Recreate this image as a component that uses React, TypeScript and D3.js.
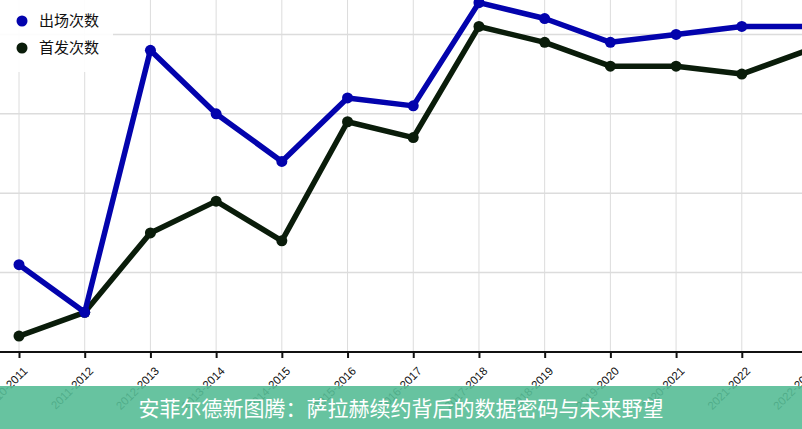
import { useEffect, useRef } from 'react';
import * as d3 from 'd3';

const seasons = [
  '2010-2011', '2011-2012', '2012-2013', '2013-2014', '2014-2015', '2015-2016', '2016-2017',
  '2017-2018', '2018-2019', '2019-2020', '2020-2021', '2021-2022', '2022-2023',
];
const appearances = [11, 5, 38, 30, 24, 32, 31, 44, 42, 39, 40, 41, 41];
const starts = [2, 5, 15, 19, 14, 29, 27, 41, 39, 36, 36, 35, 38];
const yTicks = [0, 10, 20, 30, 40, 50];

const SERIES = [
  { name: '出场次数', values: appearances, color: '#0303ad' },
  { name: '首发次数', values: starts, color: '#0a1c0a' },
];

const TITLE = '安菲尔德新图腾：萨拉赫续约背后的数据密码与未来野望';

export default function App() {
  const svgRef = useRef<SVGSVGElement>(null);
  const width = 802;
  const height = 429;

  useEffect(() => {
    if (!svgRef.current) return;
    const svg = d3.select(svgRef.current);
    svg.selectAll('*').remove();

    const x = d3.scalePoint<string>().domain(seasons).range([19, 807.5]);
    const y = d3.scaleLinear().domain([0, 50]).range([352, 352 - 50 * 7.94]);

    svg.append('rect').attr('width', width).attr('height', height).attr('fill', '#fff');

    // Grid
    svg.append('g').selectAll('line').data(seasons).join('line')
      .attr('x1', d => x(d)!).attr('x2', d => x(d)!).attr('y1', 0).attr('y2', 352)
      .attr('stroke', '#dcdcdc').attr('stroke-width', 1);
    svg.append('g').selectAll('line').data(yTicks.slice(1)).join('line')
      .attr('x1', 0).attr('x2', width).attr('y1', d => y(d)).attr('y2', d => y(d))
      .attr('stroke', '#dcdcdc').attr('stroke-width', 1.5);

    // X axis
    const xAxis = svg.append('g').attr('transform', 'translate(0,352)')
      .call(d3.axisBottom(x).tickSize(6).tickSizeOuter(0));
    xAxis.select('.domain').remove();
    xAxis.append('line').attr('x1', 0).attr('x2', width).attr('y1', 0).attr('y2', 0)
      .attr('stroke', '#111').attr('stroke-width', 2);
    xAxis.selectAll('.tick line').attr('stroke', '#111').attr('stroke-width', 2);
    xAxis.selectAll('.tick text')
      .attr('font-family', '"Liberation Sans", Arial, sans-serif').attr('font-size', 11.5)
      .attr('fill', '#111').attr('text-anchor', 'end')
      .attr('dx', '-0.3em').attr('dy', '0.6em')
      .attr('transform', 'translate(0,6) rotate(-45)');

    // Lines
    const line = d3.line<number>().x((_, i) => x(seasons[i])!).y(d => y(d));
    SERIES.slice().reverse().forEach(s => {
      svg.append('path').datum(s.values).attr('d', line).attr('fill', 'none')
        .attr('stroke', s.color).attr('stroke-width', 5.5).attr('stroke-linejoin', 'round');
      svg.append('g').selectAll('circle').data(s.values).join('circle')
        .attr('cx', (_, i) => x(seasons[i])!).attr('cy', d => y(d)).attr('r', 5.5)
        .attr('fill', s.color);
    });

    // Legend
    const lg = svg.append('g');
    lg.append('rect').attr('x', 0).attr('y', 0).attr('width', 113).attr('height', 72)
      .attr('fill', '#fff').attr('opacity', 0.9);
    SERIES.forEach((s, i) => {
      lg.append('circle').attr('cx', 22).attr('cy', 21 + i * 27).attr('r', 5.5).attr('fill', s.color);
      lg.append('text').attr('x', 39).attr('y', 21 + i * 27).attr('dy', '0.35em')
        .attr('font-family', '"Noto Sans CJK SC", sans-serif').attr('font-size', 15)
        .attr('fill', '#111').text(s.name);
    });

    // Banner
    svg.append('rect').attr('x', 0).attr('y', 386).attr('width', width).attr('height', 43)
      .attr('fill', '#56bd96').attr('opacity', 0.9);
    svg.append('text').attr('x', 401).attr('y', 409).attr('dy', '0.35em')
      .attr('text-anchor', 'middle')
      .attr('font-family', '"Noto Sans CJK SC", sans-serif').attr('font-size', 21)
      .attr('fill', '#fff').text(TITLE);
  }, []);

  return (
    <svg ref={svgRef} width={width} height={height}
      style={{ position: 'absolute', left: 0, top: 0, display: 'block' }} />
  );
}
